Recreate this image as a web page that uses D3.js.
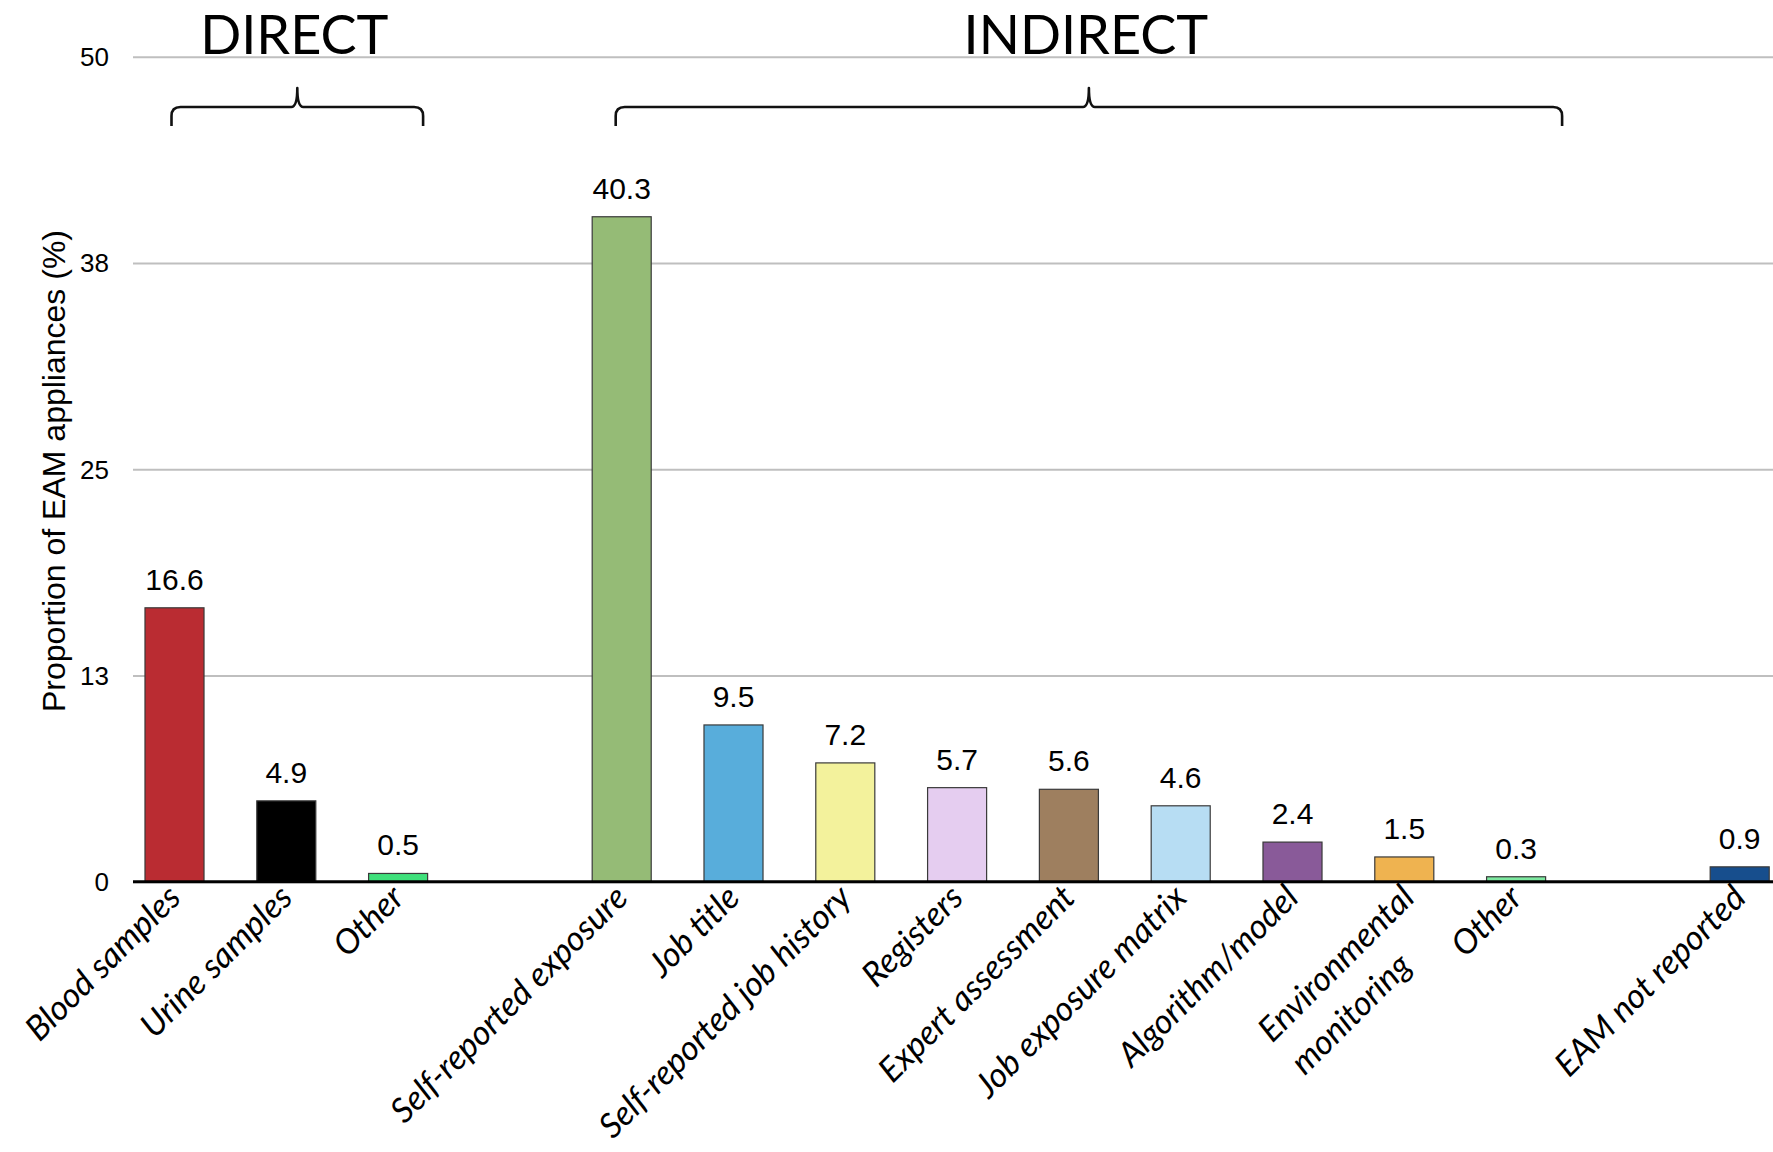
<!DOCTYPE html>
<html>
<head>
<meta charset="utf-8">
<script src="https://cdn.jsdelivr.net/npm/d3@7"></script>
<style>
  html, body { margin: 0; padding: 0; background: #ffffff; }
  svg { display: block; }
</style>
</head>
<body>
<svg id="chart" width="1773" height="1152"></svg>
<script>
// Exposure assessment methods: share of appliances (%) per method
const categories = [
  "Blood samples", "Urine samples", "Other", "",
  "Self-reported exposure", "Job title", "Self-reported job history",
  "Registers", "Expert assessment", "Job exposure matrix",
  "Algorithm/model", "Environmental\nmonitoring", "Other", "",
  "EAM not reported"
];
const values = [16.6, 4.9, 0.5, null, 40.3, 9.5, 7.2, 5.7, 5.6, 4.6, 2.4, 1.5, 0.3, null, 0.9];
const barColors = [
  "#BA2C32", "#000000", "#3FE07B", null,
  "#95BB76", "#58ADDB", "#F3F29C", "#E5CDF0", "#9E7F5F", "#B7DDF3",
  "#895A99", "#EFB350", "#7DE9A0", null,
  "#174E8D"
];
const yTickValues = [0, 12.5, 25, 37.5, 50];
const yTickLabels = ["0", "13", "25", "38", "50"];
const yAxisTitle = "Proportion of EAM appliances (%)";
const groupLabels = ["DIRECT", "INDIRECT"];
const groupFirst = [0, 4];
const groupLast = [2, 12];

const W = 1773, H = 1152;
const plotLeft = 133, baseY = 881.7, topY = 56.7;
const svg = d3.select("#chart");

const y = d3.scaleLinear().domain([0, 50]).range([baseY, topY]);
const step = 111.8, rangeStart = 118.6;
const x = d3.scaleBand()
  .domain(d3.range(categories.length))
  .range([rangeStart, rangeStart + step * categories.length])
  .paddingInner(0.472)
  .paddingOuter(0.236);
const cx = i => x(i) + x.bandwidth() / 2;

// Gridlines and y tick labels
const yAxis = d3.axisLeft(y)
  .tickValues(yTickValues)
  .tickFormat((d, i) => yTickLabels[i])
  .tickSize(-(W - plotLeft))
  .tickPadding(24);
const gy = svg.append("g")
  .attr("transform", `translate(${plotLeft},0)`)
  .call(yAxis);
gy.select(".domain").remove();
gy.selectAll(".tick line")
  .attr("stroke", "#BFBFBF")
  .attr("stroke-width", 2);
gy.selectAll(".tick text")
  .attr("font-family", "'Liberation Sans', Arial, sans-serif")
  .attr("font-size", 26)
  .attr("fill", "#000")
  .attr("dy", "0.34em");

// Axis title
svg.append("text")
  .attr("transform", `translate(65,471) rotate(-90)`)
  .attr("text-anchor", "middle")
  .attr("font-family", "'Liberation Sans', Arial, sans-serif")
  .attr("font-size", 32)
  .attr("fill", "#000")
  .text(yAxisTitle);

// Bars
const idx = d3.range(categories.length).filter(i => values[i] != null);
svg.append("g").selectAll("rect")
  .data(idx)
  .join("rect")
  .attr("x", i => x(i))
  .attr("y", i => y(values[i]))
  .attr("width", x.bandwidth())
  .attr("height", i => y(0) - y(values[i]))
  .attr("fill", i => barColors[i])
  .attr("stroke", "#3a3a3a")
  .attr("stroke-width", 1.2);

// Baseline
svg.append("line")
  .attr("x1", plotLeft).attr("x2", W)
  .attr("y1", baseY).attr("y2", baseY)
  .attr("stroke", "#000").attr("stroke-width", 3);

// Value labels
svg.append("g").selectAll("text")
  .data(idx)
  .join("text")
  .attr("x", i => cx(i))
  .attr("y", i => y(values[i]) - 18)
  .attr("text-anchor", "middle")
  .attr("font-family", "'Liberation Sans', Arial, sans-serif")
  .attr("font-size", 30)
  .attr("fill", "#000")
  .text(i => values[i].toFixed(1));

// Category labels, rotated 45 degrees
const labelG = svg.append("g");
d3.range(categories.length).filter(i => categories[i]).forEach(i => {
  const lines = categories[i].split("\n");
  const extra = (lines.length - 1) * 4;
  const g = labelG.append("g")
    .attr("transform", `translate(${cx(i) + 8 + extra},${baseY + 18}) rotate(-45)`);
  const t = g.append("text")
    .attr("font-family", "Lato, 'Open Sans', sans-serif")
    .attr("font-style", "italic")
    .attr("font-size", 34)
    .attr("fill", "#000");
  const spans = lines.map((ln, k) => t.append("tspan").attr("y", k * 46).text(ln));
  const widths = spans.map(s => s.node().getComputedTextLength());
  const maxW = d3.max(widths);
  spans.forEach(s => s.attr("x", -maxW));
});

// Group brackets with titles
const bracketPad = [[-3, 25], [-6, 46]];
const yTip = 88, yLine = 107, yEnd = 126, r = 9;
groupLabels.forEach((lab, g) => {
  const xl = cx(groupFirst[g]) + bracketPad[g][0];
  const xr = cx(groupLast[g]) + bracketPad[g][1];
  const xm = (xl + xr) / 2;
  const p = d3.path();
  p.moveTo(xl, yEnd);
  p.lineTo(xl, yLine + r);
  p.quadraticCurveTo(xl, yLine, xl + r, yLine);
  p.lineTo(xm - 6, yLine);
  p.quadraticCurveTo(xm, yLine, xm, yTip);
  p.quadraticCurveTo(xm, yLine, xm + 6, yLine);
  p.lineTo(xr - r, yLine);
  p.quadraticCurveTo(xr, yLine, xr, yLine + r);
  p.lineTo(xr, yEnd);
  svg.append("path")
    .attr("d", p.toString())
    .attr("fill", "none")
    .attr("stroke", "#111")
    .attr("stroke-width", 2.6)
    .attr("stroke-linejoin", "round");
  svg.append("text")
    .attr("x", xm - 3)
    .attr("y", 54)
    .attr("text-anchor", "middle")
    .attr("font-family", "Lato, 'Open Sans', sans-serif")
    .attr("font-size", 54)
    .attr("fill", "#000")
    .text(lab);
});
</script>
</body>
</html>
